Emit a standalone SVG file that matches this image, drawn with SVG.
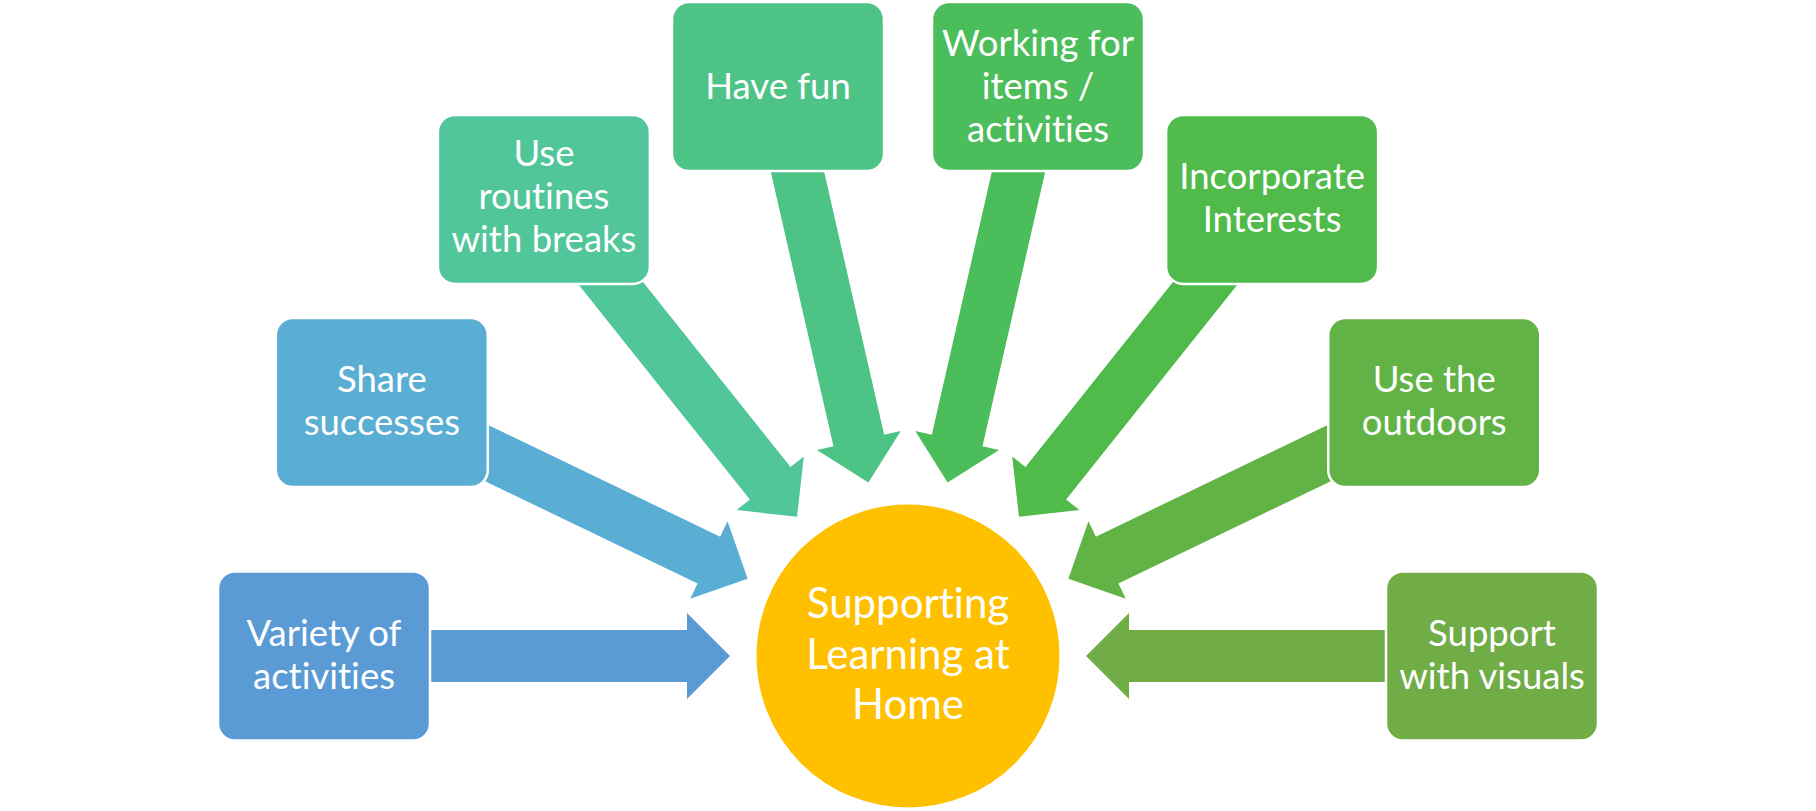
<svg xmlns="http://www.w3.org/2000/svg" width="1816" height="811" viewBox="0 0 1816 811">
  <defs>
    <style>
      .box { stroke: #ffffff; stroke-width: 2.5; }
      .lbl { font-family: Lato, "Open Sans", "Liberation Sans", sans-serif; font-size: 36.5px; fill: #ffffff; text-anchor: middle; font-variant-ligatures: none; }
      .hub { font-family: Lato, "Open Sans", "Liberation Sans", sans-serif; font-size: 42px; fill: #ffffff; text-anchor: middle; font-variant-ligatures: none; }
    </style>
    <polygon id="arw" points="-584,-26 -221,-26 -221,-43 -178,0 -221,43 -221,26 -584,26"/>
  </defs>
  <rect width="1816" height="811" fill="#ffffff"/>
  <g id="connectors">
    <use href="#arw" fill="#5B9BD5" transform="translate(908 656) rotate(0)"/>
    <use href="#arw" fill="#5AADD3" transform="translate(908 656) rotate(25.714)"/>
    <use href="#arw" fill="#50C69A" transform="translate(908 656) rotate(51.429)"/>
    <use href="#arw" fill="#4DC386" transform="translate(908 656) rotate(77.143)"/>
    <use href="#arw" fill="#4CBD5B" transform="translate(908 656) rotate(102.857)"/>
    <use href="#arw" fill="#50BA4A" transform="translate(908 656) rotate(128.571)"/>
    <use href="#arw" fill="#62B346" transform="translate(908 656) rotate(154.286)"/>
    <use href="#arw" fill="#70AD47" transform="translate(908 656) rotate(180)"/>
  </g>
  <g id="hub">
    <circle cx="908" cy="656" r="152.5" fill="#FFC000" stroke="#ffffff" stroke-width="2"/>
    <text class="hub" x="908" y="618">Supporting</text>
    <text class="hub" x="908" y="669">Learning at</text>
    <text class="hub" x="908" y="719">Home</text>
  </g>
  <g id="n1">
    <rect class="box" x="218" y="571.5" width="212" height="169" rx="17" fill="#5B9BD5"/>
    <text class="lbl" x="324" y="645.5">Variety of</text>
    <text class="lbl" x="324" y="688.5">activities</text>
  </g>
  <g id="n2">
    <rect class="box" x="275.8" y="318.1" width="212" height="169" rx="17" fill="#5AADD3"/>
    <text class="lbl" x="381.8" y="392">Share</text>
    <text class="lbl" x="381.8" y="435">successes</text>
  </g>
  <g id="n3">
    <rect class="box" x="437.9" y="114.9" width="212" height="169" rx="17" fill="#50C69A"/>
    <text class="lbl" x="543.9" y="166">Use</text>
    <text class="lbl" x="543.9" y="209">routines</text>
    <text class="lbl" x="543.9" y="252">with breaks</text>
  </g>
  <g id="n4">
    <rect class="box" x="672" y="2.1" width="212" height="169" rx="17" fill="#4DC386"/>
    <text class="lbl" x="778" y="99">Have fun</text>
  </g>
  <g id="n5">
    <rect class="box" x="932" y="2.1" width="212" height="169" rx="17" fill="#4CBD5B"/>
    <text class="lbl" x="1038" y="56">Working for</text>
    <text class="lbl" x="1038" y="99">items /</text>
    <text class="lbl" x="1038" y="142">activities</text>
  </g>
  <g id="n6">
    <rect class="box" x="1166.1" y="114.9" width="212" height="169" rx="17" fill="#50BA4A"/>
    <text class="lbl" x="1272.1" y="189.4">Incorporate</text>
    <text class="lbl" x="1272.1" y="232.4">Interests</text>
  </g>
  <g id="n7">
    <rect class="box" x="1328.2" y="318.1" width="212" height="169" rx="17" fill="#62B346"/>
    <text class="lbl" x="1434.2" y="392">Use the</text>
    <text class="lbl" x="1434.2" y="435">outdoors</text>
  </g>
  <g id="n8">
    <rect class="box" x="1386" y="571.5" width="212" height="169" rx="17" fill="#70AD47"/>
    <text class="lbl" x="1492" y="645.5">Support</text>
    <text class="lbl" x="1492" y="688.5">with visuals</text>
  </g>
</svg>
